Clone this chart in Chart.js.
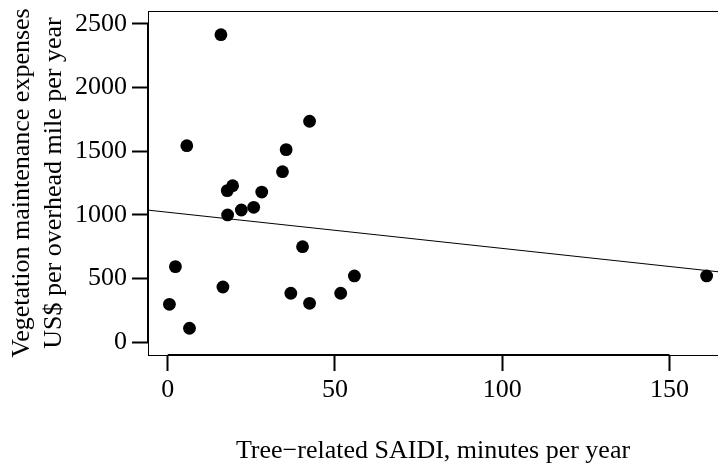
<!DOCTYPE html>
<html>
<head>
<meta charset="utf-8">
<script src="https://cdn.jsdelivr.net/npm/chart.js@4"></script>
<style>
  html, body { margin: 0; padding: 0; background: #fff; }
  #wrap { width: 718px; height: 468px; }
</style>
</head>
<body>
<div id="wrap"><canvas id="saidiChart"></canvas></div>
<script>
// tree-related SAIDI (minutes/year) vs vegetation maintenance spend (US$/overhead mile/year)
const SAIDI = [0.5, 2.3, 5.7, 6.5, 15.9, 16.5, 17.8, 17.9, 19.4, 22.0, 25.7, 28.1, 34.3, 35.4, 36.8, 40.3, 42.4, 42.4, 51.7, 55.8, 161.1];
const EXPENSES = [298, 594, 1544, 110, 2416, 434, 1191, 1000, 1230, 1039, 1060, 1180, 1340, 1513, 385, 751, 1736, 306, 385, 521, 521];

// fitted line, read at the two ends of the plot box
const FIT_X = [-5.9, 164.5];
const FIT_Y = [1038, 554];

const X_TICKS = [0, 50, 100, 150];
const Y_TICKS = [0, 500, 1000, 1500, 2000, 2500];

const FONT = 'Liberation Serif';

const scatterPoints = SAIDI.map((x, i) => ({x: x, y: EXPENSES[i]}));
const fitPoints = FIT_X.map((x, i) => ({x: x, y: FIT_Y[i]}));

// box around the plot area plus R-style axis lines that only span the ticks
const frame = {
    id: 'frame',
    afterDraw(chart) {
        const ctx = chart.ctx;
        const a = chart.chartArea;
        const xs = chart.scales.x, ys = chart.scales.y;
        ctx.save();
        ctx.strokeStyle = '#000';
        ctx.lineWidth = 1;
        ctx.strokeRect(a.left + 0.5, a.top + 0.5, a.right - a.left, a.bottom - a.top);
        ctx.lineWidth = 2;
        ctx.beginPath();
        ctx.moveTo(a.left, ys.getPixelForValue(Y_TICKS[0]));
        ctx.lineTo(a.left, ys.getPixelForValue(Y_TICKS[Y_TICKS.length - 1]));
        ctx.moveTo(xs.getPixelForValue(X_TICKS[0]), a.bottom);
        ctx.lineTo(xs.getPixelForValue(X_TICKS[X_TICKS.length - 1]), a.bottom);
        ctx.stroke();
        ctx.restore();
    }
};

const configSaidi = {
    type: 'scatter',
    data: {
        datasets: [
            {
                label: 'Utilities',
                data: scatterPoints,
                pointRadius: 6.4,
                pointHoverRadius: 6.4,
                backgroundColor: '#000',
                borderColor: '#000',
                borderWidth: 0,
                order: 1
            },
            {
                label: 'Fit',
                type: 'line',
                data: fitPoints,
                borderColor: '#000',
                borderWidth: 1,
                pointRadius: 0,
                fill: false,
                order: 2
            }
        ]
    },
    options: {
        responsive: true,
        maintainAspectRatio: false,
        animation: false,
        events: [],
        layout: { autoPadding: false, padding: { top: 11, right: 0, left: 0, bottom: 0 } },
        plugins: {
            legend: { display: false },
            tooltip: { enabled: false }
        },
        scales: {
            x: {
                type: 'linear',
                min: FIT_X[0],
                max: FIT_X[1],
                afterBuildTicks(scale) { scale.ticks = X_TICKS.map(v => ({value: v})); },
                afterFit(scale) {
                    scale.height = 113;
                    scale.paddingLeft = 0;
                    scale.paddingRight = 0;
                },
                border: { display: false },
                grid: { drawOnChartArea: false, drawTicks: true, tickLength: 16, tickWidth: 2, color: '#000' },
                ticks: {
                    color: '#000', padding: 4, maxRotation: 0,
                    font: { family: FONT, size: 26 },
                    callback: v => String(v)
                },
                title: {
                    display: true,
                    text: 'Tree\u2212related SAIDI, minutes per year',
                    color: '#000',
                    padding: { top: 0, bottom: 1 },
                    font: { family: FONT, size: 26 }
                }
            },
            y: {
                type: 'linear',
                min: -100,
                max: 2602,
                afterBuildTicks(scale) { scale.ticks = Y_TICKS.map(v => ({value: v})); },
                afterFit(scale) {
                    scale.width = 148;
                    scale.paddingTop = 0;
                    scale.paddingBottom = 0;
                },
                border: { display: false },
                grid: { drawOnChartArea: false, drawTicks: true, tickLength: 16, tickWidth: 2, color: '#000' },
                ticks: {
                    color: '#000', padding: 5,
                    font: { family: FONT, size: 26 },
                    callback: v => String(v)
                },
                title: {
                    display: true,
                    text: ['Vegetation maintenance expenses', 'US$ per overhead mile per year'],
                    color: '#000',
                    padding: { top: 7, bottom: 0 },
                    font: { family: FONT, size: 26, lineHeight: 1.2 }
                }
            }
        }
    },
    plugins: [frame]
};

var saidiChart = new Chart(document.getElementById('saidiChart'), configSaidi);
</script>
</body>
</html>
